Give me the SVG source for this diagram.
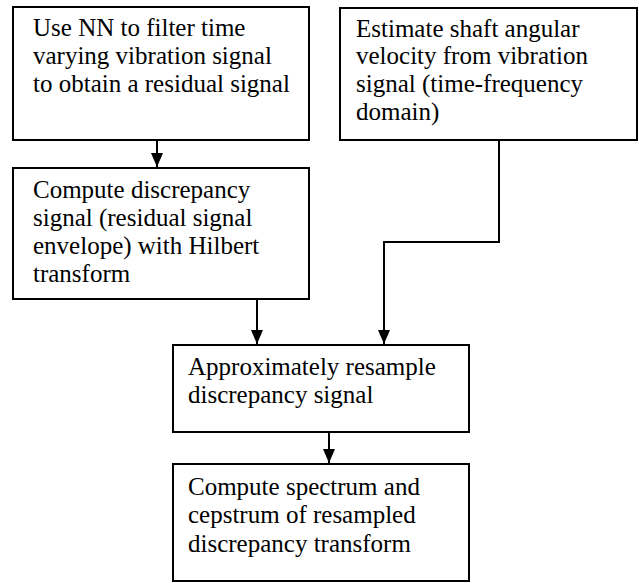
<svg xmlns="http://www.w3.org/2000/svg" width="639" height="583" viewBox="0 0 639 583">
<style>
.box{fill:#fff;stroke:#000;stroke-width:2}
.c{fill:none;stroke:#000;stroke-width:2}
</style>
<defs>
<marker id="ah" viewBox="0 0 14 12" refX="14" refY="6" markerWidth="14" markerHeight="12" markerUnits="userSpaceOnUse" orient="auto">
<path d="M0,0 L14,6 L0,12 z" fill="#000"/>
</marker>
</defs>
<rect width="639" height="583" fill="#fff"/>
<g font-family="'Liberation Serif', 'Times New Roman', serif" font-size="25" fill="#000">
<g id="n1">
<rect class="box" x="13" y="7" width="296" height="133"/>
<text x="33" y="36">Use NN to filter time</text>
<text x="33" y="64">varying vibration signal</text>
<text x="33" y="92">to obtain a residual signal</text>
</g>
<g id="n2">
<rect class="box" x="340" y="8" width="297" height="132"/>
<text x="356" y="37">Estimate shaft angular</text>
<text x="356" y="64">velocity from vibration</text>
<text x="356" y="92">signal (time-frequency</text>
<text x="356" y="120">domain)</text>
</g>
<g id="n3">
<rect class="box" x="13" y="168" width="296" height="131"/>
<text x="33" y="198">Compute discrepancy</text>
<text x="33" y="226">signal (residual signal</text>
<text x="33" y="254">envelope) with Hilbert</text>
<text x="33" y="282">transform</text>
</g>
<g id="n4">
<rect class="box" x="173" y="345" width="296" height="87"/>
<text x="188" y="375">Approximately resample</text>
<text x="188" y="403">discrepancy signal</text>
</g>
<g id="n5">
<rect class="box" x="173" y="464" width="296" height="117"/>
<text x="188" y="495">Compute spectrum and</text>
<text x="188" y="523">cepstrum of resampled</text>
<text x="188" y="552">discrepancy transform</text>
</g>
</g>
<g id="connectors">
<path class="c" d="M157,140 V167" marker-end="url(#ah)"/>
<path class="c" d="M257,299 V344" marker-end="url(#ah)"/>
<path class="c" d="M499,140 V242 H384 V344" marker-end="url(#ah)"/>
<path class="c" d="M329,432 V463" marker-end="url(#ah)"/>
</g>
</svg>
